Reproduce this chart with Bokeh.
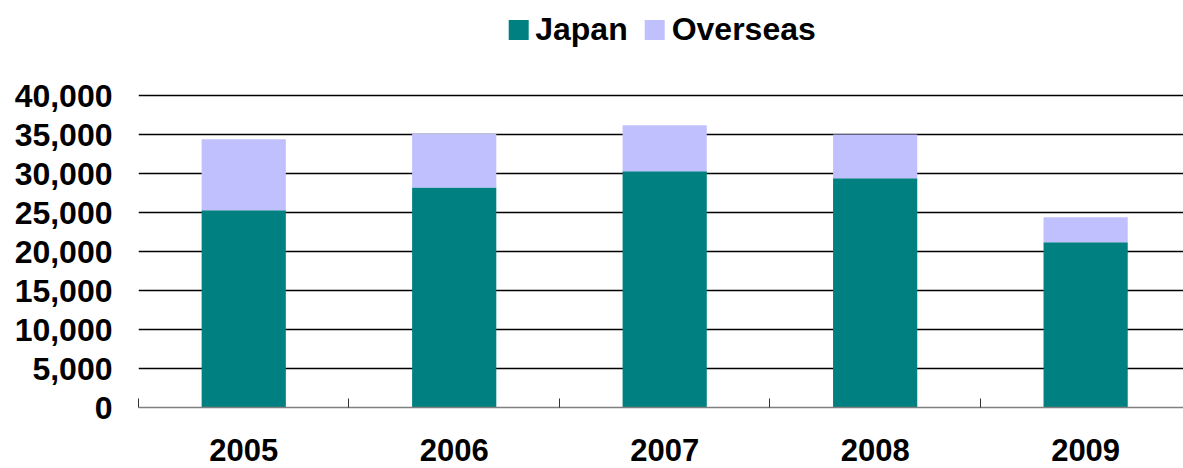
from bokeh.plotting import figure
from bokeh.models import ColumnDataSource, FixedTicker, NumeralTickFormatter, Range1d
from bokeh.embed import file_html
from bokeh.resources import INLINE

years = ["2005", "2006", "2007", "2008", "2009"]
japan = [25300, 28200, 30300, 29400, 21200]
overseas = [9100, 6900, 5900, 5600, 3200]
y_ticks = [0, 5000, 10000, 15000, 20000, 25000, 30000, 35000, 40000]
series = ["Japan", "Overseas"]
colors = ["#008080", "#C0C0FF"]

xs = list(range(len(years)))
src = ColumnDataSource(dict(x=xs, Japan=japan, Overseas=overseas))

FONT = "Liberation Sans"

p = figure(width=1183, height=468, output_backend="svg", toolbar_location=None,
           x_range=Range1d(-0.5, 4.465), y_range=Range1d(0, 52180),
           min_border_left=138, min_border_right=0, min_border_top=0, min_border_bottom=61)
p.outline_line_color = None
p.background_fill_color = "white"
p.border_fill_color = "white"

p.vbar_stack(series, x="x", width=0.4, source=src, color=colors, line_color=None,
             legend_label=series)

# y axis
yax = p.yaxis[0]
yax.ticker = FixedTicker(ticks=y_ticks)
yax.formatter = NumeralTickFormatter(format="0,0")
yax.axis_line_color = None
yax.major_tick_line_color = None
yax.minor_tick_line_color = None
yax.major_label_text_font = FONT
yax.major_label_text_font_style = "bold"
yax.major_label_text_font_size = "32px"
yax.major_label_text_color = "black"
yax.major_label_standoff = 20

# x axis
xax = p.xaxis[0]
xax.ticker = FixedTicker(ticks=xs, minor_ticks=[-0.5, 0.5, 1.5, 2.5, 3.5, 4.5])
xax.major_label_overrides = {i: y for i, y in zip(xs, years)}
xax.axis_line_color = "#808080"
xax.axis_line_width = 1.5
xax.major_tick_line_color = None
xax.minor_tick_in = 9
xax.minor_tick_out = 0
xax.minor_tick_line_color = "#333333"
xax.minor_tick_line_width = 1
xax.major_label_text_font = FONT
xax.major_label_text_font_style = "bold"
xax.major_label_text_font_size = "31px"
xax.major_label_text_color = "black"
xax.major_label_text_line_height = 1.0
xax.major_label_standoff = 25

# grid
p.xgrid.visible = False
p.ygrid.ticker = FixedTicker(ticks=y_ticks[1:])
p.ygrid.grid_line_color = "#000000"
p.ygrid.grid_line_width = 1.3

# legend
lg = p.legend[0]
lg.location = "top_center"
lg.orientation = "horizontal"
lg.border_line_color = None
lg.background_fill_alpha = 0
lg.margin = 11
lg.padding = 0
lg.glyph_width = 25
lg.glyph_height = 25
lg.label_standoff = 5
lg.spacing = 14
lg.label_text_font = FONT
lg.label_text_font_style = "bold"
lg.label_text_font_size = "32px"
lg.label_text_color = "black"

open("out.html", "w").write(file_html(p, INLINE))
